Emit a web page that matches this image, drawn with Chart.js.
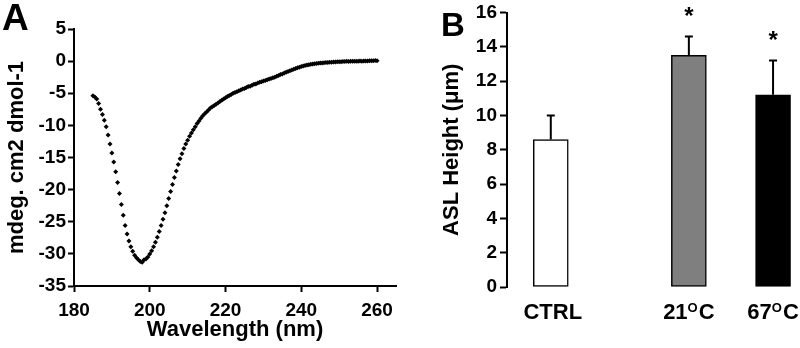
<!DOCTYPE html>
<html><head><meta charset="utf-8">
<script src="https://cdn.jsdelivr.net/npm/chart.js@4/dist/chart.umd.min.js"></script>
<style>
html,body{margin:0;padding:0;background:#fff;width:800px;height:348px;overflow:hidden;font-family:"Liberation Sans",Arial,sans-serif;}
#wrapA{position:absolute;left:0;top:0;width:400px;height:348px;}
#wrapB{position:absolute;left:420px;top:0;width:380px;height:348px;}
.panel{position:absolute;font-weight:bold;line-height:1;color:#000;}
</style></head><body>
<div id="wrapA"><canvas id="cA" width="400" height="348"></canvas></div>
<div id="wrapB"><canvas id="cB" width="380" height="348"></canvas></div>
<div class="panel" style="left:2px;top:-1px;font-size:37px">A</div>
<div class="panel" style="left:441px;top:8px;font-size:33px">B</div>
<script>
// ---------- Panel A data (CD spectrum) ----------
const wavelengths = [
  185,185.5,186,186.5,187,187.5,188,188.5,189,189.5,
  190,190.5,191,191.5,192,192.5,193,193.5,194,194.5,
  195,195.5,196,196.5,197,197.5,198,198.5,199,199.5,
  200,200.5,201,201.5,202,202.5,203,203.5,204,204.5,
  205,205.5,206,206.5,207,207.5,208,208.5,209,209.5,
  210,210.5,211,211.5,212,212.5,213,213.5,214,214.5,
  215,215.5,216,216.5,217,217.5,218,218.5,219,219.5,
  220,220.5,221,221.5,222,222.5,223,223.5,224,224.5,
  225,225.5,226,226.5,227,227.5,228,228.5,229,229.5,
  230,230.5,231,231.5,232,232.5,233,233.5,234,234.5,
  235,235.5,236,236.5,237,237.5,238,238.5,239,239.5,
  240,240.5,241,241.5,242,242.5,243,243.5,244,244.5,
  245,245.5,246,246.5,247,247.5,248,248.5,249,249.5,
  250,250.5,251,251.5,252,252.5,253,253.5,254,254.5,
  255,255.5,256,256.5,257,257.5,258,258.5,259,259.5,
  260
];
const cdSignal = [
  -5.4,-5.6,-5.9,-6.6,-7.5,-8.3,-9.2,-10.2,-11.5,-12.9,
  -14.3,-15.7,-17.2,-18.9,-20.6,-22.3,-24.0,-25.6,-26.9,-28.0,
  -28.9,-29.6,-30.2,-30.6,-30.9,-31.2,-31.3,-30.9,-30.8,-30.5,
  -30.0,-29.5,-28.9,-28.2,-27.4,-26.5,-25.6,-24.6,-23.6,-22.5,
  -21.4,-20.3,-19.2,-18.1,-17.1,-16.1,-15.2,-14.4,-13.6,-12.9,
  -12.3,-11.7,-11.2,-10.7,-10.2,-9.7,-9.3,-8.9,-8.5,-8.2,
  -7.9,-7.6,-7.3,-7.1,-6.9,-6.7,-6.5,-6.3,-6.1,-5.9,
  -5.7,-5.5,-5.35,-5.2,-5.0,-4.9,-4.75,-4.6,-4.5,-4.35,
  -4.25,-4.1,-3.95,-3.9,-3.75,-3.6,-3.55,-3.4,-3.3,-3.2,
  -3.1,-3.0,-2.9,-2.8,-2.7,-2.6,-2.5,-2.35,-2.25,-2.1,
  -2.0,-1.85,-1.75,-1.6,-1.5,-1.4,-1.25,-1.15,-1.05,-0.95,
  -0.85,-0.75,-0.7,-0.6,-0.55,-0.5,-0.45,-0.42,-0.38,-0.35,
  -0.3,-0.28,-0.25,-0.22,-0.2,-0.18,-0.16,-0.14,-0.12,-0.11,
  -0.1,-0.08,-0.07,-0.05,-0.03,-0.04,-0.02,-0.03,-0.01,0.0,
  -0.02,0.01,0.0,0.02,0.03,0.02,0.04,0.06,0.07,0.08,
  0.05
];
const xTicksA = [180, 200, 220, 240, 260];

// ---------- Panel B data (ASL height) ----------
const categories = ["CTRL", "21°C", "67°C"];
const barSlots = [1, 2.64, 3.64];
const means = [8.6, 13.5, 11.2];
const errors = [1.4, 1.1, 2.0];
const significant = [false, true, true];
const barColors = ["#ffffff", "#7f7f7f", "#000000"];

const FONT = '"Liberation Sans", Arial, sans-serif';
Chart.defaults.font.family = FONT;
Chart.defaults.color = '#000';

new Chart(document.getElementById('cA'), {
  type: 'scatter',
  data: { datasets: [{
    data: wavelengths.map((w, i) => ({ x: w, y: cdSignal[i] })),
    pointStyle: 'rectRot', pointRadius: 2.5, pointBackgroundColor: '#000',
    pointBorderWidth: 0, showLine: false
  }]},
  options: {
    responsive: false, animation: false,
    layout: { padding: { top: 29, right: 0, left: 0, bottom: 0 } },
    plugins: { legend: { display: false }, tooltip: { enabled: false } },
    scales: {
      x: {
        type: 'linear', min: 180, max: 265,
        afterBuildTicks: ax => { ax.ticks = xTicksA.map(v => ({ value: v })); },
        afterFit: ax => { ax.height = 62; ax.paddingLeft = 0; ax.paddingRight = 0; },
        grid: { display: true, drawOnChartArea: false, drawTicks: true, tickLength: 6, tickWidth: 2, tickColor: '#000' },
        border: { display: true, color: '#000', width: 2 },
        ticks: { font: { size: 19, weight: 'bold', lineHeight: 1 }, padding: 9, color: '#000', maxRotation: 0 },
        title: { display: true, text: 'Wavelength (nm)', font: { size: 22, weight: 'bold' }, padding: { bottom: 5 }, color: '#000' }
      },
      y: {
        min: -35, max: 5,
        ticks: { stepSize: 5, font: { size: 19, weight: 'bold', lineHeight: 1 }, padding: 2, color: '#000' },
        afterFit: ax => { ax.width = 74; },
        grid: { drawOnChartArea: false, tickLength: 6, tickWidth: 2, tickColor: '#000' },
        border: { color: '#000', width: 2 },
        title: { display: true, text: 'mdeg. cm2 dmol-1', font: { size: 22, weight: 'bold' }, padding: { top: 4 }, color: '#000' }
      }
    }
  }
});

const barExtras = {
  id: 'barExtras',
  afterDatasetsDraw(chart) {
    const ctx = chart.ctx, ys = chart.scales.y, meta = chart.getDatasetMeta(0);
    const labelBaseline = chart.chartArea.bottom + 32;
    ctx.save();
    meta.data.forEach((bar, i) => {
      const x = bar.x;
      const yTop = ys.getPixelForValue(means[i] + errors[i]);
      const yb = bar.y;
      ctx.strokeStyle = '#000'; ctx.lineWidth = 2;
      ctx.beginPath();
      ctx.moveTo(x, yb); ctx.lineTo(x, yTop);
      ctx.moveTo(x - 4, yTop); ctx.lineTo(x + 4, yTop);
      ctx.stroke();
      ctx.fillStyle = '#000';
      ctx.textBaseline = 'alphabetic';
      if (significant[i]) {
        ctx.font = 'bold 24px ' + FONT;
        ctx.textAlign = 'center';
        ctx.fillText('*', x, yTop - 13);
      }
      // category label (with superscript O for degrees)
      const parts = categories[i].split('°');
      const mainFont = 'bold 22px ' + FONT, supFont = 'bold 13px ' + FONT;
      ctx.textAlign = 'left';
      if (parts.length === 2) {
        ctx.font = mainFont; const w1 = ctx.measureText(parts[0]).width; const w3 = ctx.measureText(parts[1]).width;
        ctx.font = supFont; const w2 = ctx.measureText('O').width;
        let sx = x - (w1 + w2 + 1 + w3) / 2;
        ctx.font = mainFont; ctx.fillText(parts[0], sx, labelBaseline); sx += w1;
        ctx.font = supFont; ctx.fillText('O', sx, labelBaseline - 7); sx += w2 + 1;
        ctx.font = mainFont; ctx.fillText(parts[1], sx, labelBaseline);
      } else {
        ctx.font = mainFont; ctx.textAlign = 'center';
        ctx.fillText(categories[i], x + 2, labelBaseline);
      }
    });
    ctx.restore();
  }
};

new Chart(document.getElementById('cB'), {
  type: 'bar',
  data: { datasets: [{
    data: barSlots.map((s, i) => ({ x: s, y: means[i] })),
    backgroundColor: barColors, borderColor: '#000', borderWidth: 1.5,
    borderSkipped: false, barThickness: 35
  }]},
  options: {
    responsive: false, animation: false,
    layout: { padding: { top: 9, right: 0, left: 0, bottom: 0 } },
    plugins: { legend: { display: false }, tooltip: { enabled: false } },
    scales: {
      x: {
        type: 'linear', min: 0.48, max: 3.96, offset: false,
        afterFit: ax => { ax.height = 61; },
        ticks: { display: false },
        grid: { display: false, offset: false },
        border: { display: false }
      },
      y: {
        min: 0, max: 16,
        ticks: { stepSize: 2, font: { size: 19, weight: 'bold', lineHeight: 1 }, padding: 3, color: '#000' },
        afterFit: ax => { ax.width = 87; },
        grid: { drawOnChartArea: false, tickLength: 7, tickWidth: 2, tickColor: '#000' },
        border: { color: '#000', width: 2 },
        title: { display: true, text: 'ASL Height (μm)', font: { size: 22, weight: 'bold' }, padding: { top: 19 }, color: '#000' }
      }
    }
  },
  plugins: [barExtras]
});
</script>
</body></html>
